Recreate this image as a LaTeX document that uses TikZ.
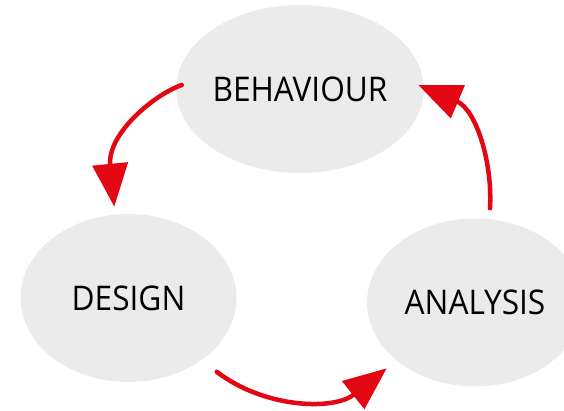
\documentclass[tikz,border=0pt]{standalone}
\usepackage{fontspec}
\setmainfont{Open Sans}[FakeStretch=0.93]
\usetikzlibrary{arrows.meta, shapes.geometric}
\definecolor{cyclered}{HTML}{E30613}
\definecolor{blobgray}{HTML}{EBEBEB}

\begin{document}
\begin{tikzpicture}[
					x=1pt, y=1pt,
					phase/.style={ellipse, fill=blobgray, minimum width=216pt, minimum height=168pt, inner sep=0pt, font=\fontsize{34}{40}\selectfont},
					cycle/.style={cyclered, line width=4.5pt, line cap=round, -{Triangle[length=43pt, width=35pt]}}
					]
					\useasboundingbox (0,0) rectangle (564,410);
					\node[phase] (BEH) at (300,321) {BEHAVIOUR};
					\node[phase] (DES) at (128.5,112) {DESIGN};
					\node[phase] (ANA) at (475,107.5) {ANALYSIS};
					% arrow ends
					\coordinate (BEHout) at (181.7,325);
					\coordinate (DESin) at (114.3,203.3);
					\coordinate (DESout) at (216.7,38.3);
					\coordinate (ANAin) at (386.7,41.7);
					\coordinate (ANAout) at (490,201.7);
					\coordinate (BEHin) at (418.3,325);
					\draw[cycle] (BEHout) .. controls (153.7,315.1) and (107.2,276) .. (DESin);
					\draw[cycle] (DESout) .. controls (264.1,1.7) and (333.7,-0.7) .. (ANAin);
					\draw[cycle] (ANAout) .. controls (492.7,247) and (476.3,300.4) .. (BEHin);
				\end{tikzpicture}
\end{document}
